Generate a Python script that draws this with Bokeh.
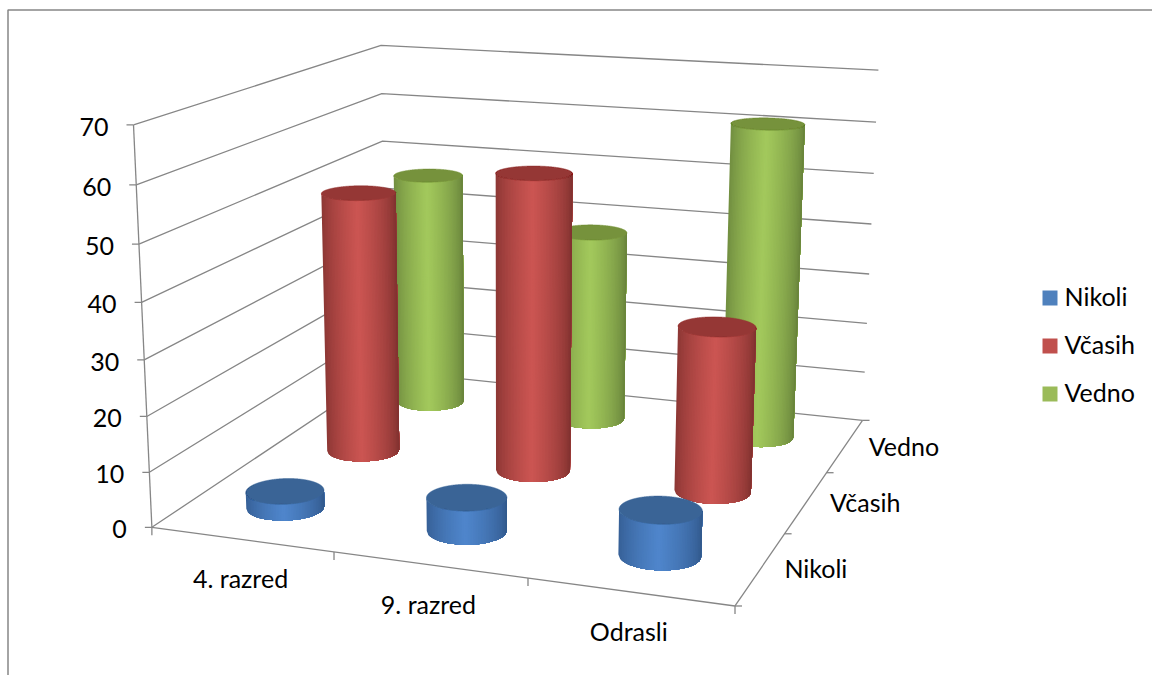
from bokeh.core.properties import value
from bokeh.embed import file_html
from bokeh.models import ColumnDataSource, Range1d
from bokeh.plotting import figure
from bokeh.resources import INLINE
import numpy as np

# Survey results: share of answers per group
categories = ["4. razred", "9. razred", "Odrasli"]
series_names = ["Nikoli", "Včasih", "Vedno"]
nikoli = [3, 6, 8]
vcasih = [50, 56, 30.7]
vedno = [47, 38, 61.4]
value_ticks = [0, 10, 20, 30, 40, 50, 60, 70]
value_max = 70

# Colours: (side highlight, side edge, top cap, legend swatch)
palette = {
    "Nikoli": ("#4f86cc", "#2f5587", "#3a6496", "#4f81bd"),
    "Včasih": ("#cc5552", "#7a2e2c", "#953735", "#c0504d"),
    "Vedno": ("#a3c95c", "#637d38", "#76923c", "#9bbb59"),
}
axis_color = "#868686"
text_color = "#000000"
label_font = value("Lato")
label_size = "25px"

# Camera calibration: cube coordinates (u along groups, v along answers,
# w along values, all 0..1) paired with canvas positions.
left_front = [(151.5, 527), (148.5, 472), (146.5, 416), (143.5, 359),
              (142, 302), (139, 244), (135.5, 184), (133, 124)]
right_back = [(862, 420), (864, 372), (866, 323), (869, 273),
              (871, 223), (873, 173), (876, 122), (878, 70)]
calibration = []
for k, pos in enumerate(left_front):
    calibration.append(((0, 0, k / 7), pos))
for k, pos in enumerate(right_back):
    calibration.append(((1, 1, k / 7), pos))
calibration += [
    ((0, 1, 1), (380, 45)), ((0, 1, 6 / 7), (381, 93)), ((0, 1, 5 / 7), (382, 141)),
    ((0, 1, 0), (386, 370)), ((1, 0, 0), (735, 605)),
    ((1 / 3, 0, 0), (333, 552)), ((2 / 3, 0, 0), (527, 578)),
    ((1, 1 / 3, 0), (783, 533)), ((1, 2 / 3, 0), (827, 472)),
]


def fit_camera(pairs):
    rows = []
    for (u, v, w), (x, y) in pairs:
        rows.append([u, v, w, 1, 0, 0, 0, 0, -x * u, -x * v, -x * w, -x])
        rows.append([0, 0, 0, 0, u, v, w, 1, -y * u, -y * v, -y * w, -y])
    return np.linalg.svd(np.array(rows, dtype=float))[2][-1].reshape(3, 4)


camera = fit_camera(calibration)


def project(u, v, w):
    u, v, w = np.broadcast_arrays(np.asarray(u, float), np.asarray(v, float), np.asarray(w, float))
    h = camera @ np.stack([u, v, w, np.ones_like(u)])
    return h[0] / h[2], h[1] / h[2]


def mix(edge, light, t):
    a = [int(edge[i:i + 2], 16) for i in (1, 3, 5)]
    b = [int(light[i:i + 2], 16) for i in (1, 3, 5)]
    return "#%02x%02x%02x" % tuple(round(p + (q - p) * t) for p, q in zip(a, b))


p = figure(width=1152, height=675, x_range=Range1d(0, 1152), y_range=Range1d(675, 0),
           x_axis_location=None, y_axis_location=None, toolbar_location=None,
           output_backend="svg", min_border=0, outline_line_color=None,
           background_fill_color="white", border_fill_color="white")
p.grid.visible = False

# Chart frame
p.multi_line([[7.5, 7.5, 1152]], [[675, 9.5, 9.5]], line_color=axis_color, line_width=1.5)

# Gridlines on the left and back walls
grid_xs, grid_ys = [], []
for t in value_ticks:
    w = t / value_max
    gx, gy = project([0, 0, 1], [0, 1, 1], [w, w, w])
    grid_xs.append(list(gx))
    grid_ys.append(list(gy))
p.multi_line(grid_xs, grid_ys, line_color=axis_color, line_width=1.3)

# Floor edges, value axis and tick marks
ax_xs, ax_ys = [], []
for a, b in [((0, 0, 0), (0, 0, 1)), ((0, 0, 0), (1, 0, 0)), ((1, 0, 0), (1, 1, 0))]:
    sx, sy = project(*a), project(*b)
    ax_xs.append([float(sx[0]), float(sy[0])])
    ax_ys.append([float(sx[1]), float(sy[1])])
for t in value_ticks:
    tx, ty = project(0, 0, t / value_max)
    ax_xs.append([float(tx) - 7, float(tx)])
    ax_ys.append([float(ty), float(ty)])
for k in range(len(categories) + 1):
    tx, ty = project(k / len(categories), 0, 0)
    ax_xs.append([float(tx), float(tx)])
    ax_ys.append([float(ty), float(ty) + 8])
for k in range(len(series_names) + 1):
    tx, ty = project(1, k / len(series_names), 0)
    ax_xs.append([float(tx), float(tx) + 7])
    ax_ys.append([float(ty), float(ty)])
p.multi_line(ax_xs, ax_ys, line_color=axis_color, line_width=1.3)

# Cylinders, back row first so nearer ones cover them
rows = {"Nikoli": nikoli, "Včasih": vcasih, "Vedno": vedno}
radius = 0.4 / 3 / 2
angles = np.linspace(0, 2 * np.pi, 1441)
strip_count = 50
for j in reversed(range(len(series_names))):
    name = series_names[j]
    light, edge, cap, _ = palette[name]
    for i, val in enumerate(rows[name]):
        cu = (i + 0.5) / len(categories)
        cv = (j + 0.5) / len(series_names)
        u = cu + radius * np.cos(angles)
        v = cv + radius * np.sin(angles)
        bx, by = project(u, v, 0)
        tx, ty = project(u, v, val / value_max)

        # Walk the near half of the base from its left extreme to its right
        # extreme, with strips evenly spaced along the canvas
        lo, hi = int(np.argmin(bx[:-1])), int(np.argmax(bx[:-1]))
        arc = np.arange(lo, hi + 1 if hi > lo else hi + 1441) % 1440
        frac = (bx[arc] - bx[lo]) / (bx[hi] - bx[lo])
        steps = np.linspace(0, 1, strip_count + 1)
        pick = np.clip(np.searchsorted(frac, steps), 0, len(arc) - 1)
        arc = arc[pick]

        # Each band runs from its own left edge to the far right, and the next
        # one paints over it, so no seams open between neighbouring colours
        xs, ys, colors = [], [], []
        for s in range(strip_count):
            mid = (steps[s] + steps[s + 1]) / 2
            dist = abs(mid - 0.48) / 0.52
            shade = float((1 - min(dist, 1.0)) ** 0.6)
            rest = arc[s:]
            xs.append(list(bx[rest]) + list(tx[rest][::-1]))
            ys.append(list(by[rest]) + list(ty[rest][::-1]))
            colors.append(mix(edge, light, shade))
        src = ColumnDataSource(dict(xs=xs, ys=ys, color=colors))
        p.patches("xs", "ys", source=src, fill_color="color", line_color=None)
        p.patch(tx, ty, fill_color=cap, line_color=cap, line_width=0.5)

# Value axis labels
vx, vy = project(0, 0, np.array(value_ticks) / value_max)
p.text(vx - 25, vy + 2, text=[str(t) for t in value_ticks], text_align="right",
       text_baseline="middle", text_font=label_font, text_font_size=label_size, text_color=text_color)

# Group labels under the front edge
cu = (np.arange(len(categories)) + 0.5) / len(categories)
cx, cy = project(cu, 0, 0)
p.text(cx - 1, cy + 39, text=categories, text_align="center", text_baseline="middle",
       text_font=label_font, text_font_size=label_size, text_color=text_color)

# Answer labels beside the right floor edge
sv = (np.arange(len(series_names)) + 0.5) / len(series_names)
sx, sy = project(1, sv, 0)
p.text(sx + 23.5, sy, text=series_names, text_align="left", text_baseline="middle",
       text_font=label_font, text_font_size=label_size, text_color=text_color)

# Legend
legend_tops = [290, 338, 386]
for top, name in zip(legend_tops, series_names):
    p.quad(left=[1042], right=[1057], top=[top], bottom=[top + 15],
           fill_color=palette[name][3], line_color=None)
    p.text([1064], [top + 5], text=[name], text_align="left", text_baseline="middle",
           text_font=label_font, text_font_size=label_size, text_color=text_color)

open("out.html", "w").write(file_html(p, INLINE))
